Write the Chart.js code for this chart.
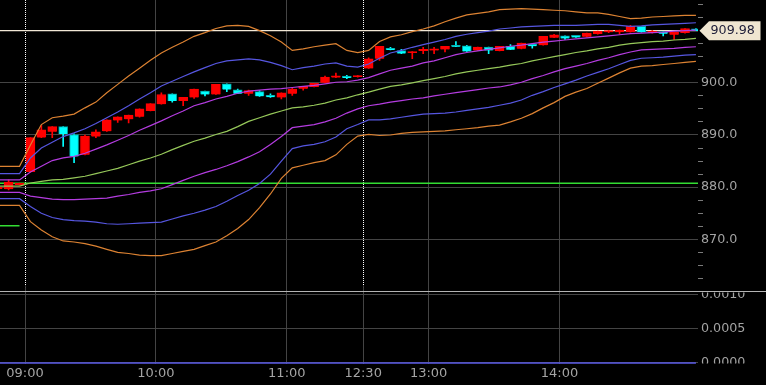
<!DOCTYPE html>
<html>
<head>
<meta charset="utf-8">
<script src="https://cdn.jsdelivr.net/npm/chart.js@4.4.0/dist/chart.umd.min.js"></script>
<style>
  html, body { margin: 0; padding: 0; background: #000; }
  canvas { display: block; }
</style>
</head>
<body>
<canvas id="chart" width="766" height="385"></canvas>
<script>
// 5-minute slots; 0 = 09:00, 31 = 12:30 (lunch break collapsed), negatives = previous session
const slots = [-3, -2, -1,
  0, 1, 2, 3, 4, 5, 6, 7, 8, 9,
  10, 11, 12, 13, 14, 15, 16, 17, 18, 19,
  20, 21, 22, 23, 24, 25, 26, 27, 28, 29,
  30, 31, 32, 33, 34, 35, 36, 37, 38, 39,
  40, 41, 42, 43, 44, 45, 46, 47, 48, 49,
  50, 51, 52, 53, 54, 55, 56, 57, 58, 59,
  60, 61];

const open = [879.7, 879.6, 880.4,
  882.9, 889.5, 890.6, 891.6, 890.1, 886.2, 889.7, 890.7, 892.8, 893.0,
  893.5, 894.6, 895.9, 897.9, 896.5, 897.2, 898.4, 897.75, 899.8, 898.65,
  897.9, 898.3, 897.6, 897.2, 897.9, 898.85, 899.2, 900.0, 901.0, 901.3,
  901.1, 902.75, 904.6, 906.6, 906.15, 905.7, 906.1, 906.2, 906.4, 907.2,
  907.1, 906.2, 906.85, 906.1, 907.0, 906.5, 907.4, 907.2, 908.65, 909.0,
  909.1, 908.8, 909.35, 909.7, 909.7, 909.7, 910.8, 909.6, 909.8, 909.2,
  909.55, 910.35];
const high = [880.0, 881.4, 880.8,
  889.5, 891.8, 891.6, 891.6, 890.2, 890.0, 891.0, 892.9, 893.5, 893.8,
  895.0, 896.0, 898.1, 897.9, 897.2, 898.8, 898.4, 899.7, 899.8, 898.8,
  898.6, 898.5, 897.9, 898.1, 899.1, 899.3, 899.9, 901.3, 901.85, 901.45,
  901.4, 904.8, 907.0, 906.8, 906.4, 906.0, 906.8, 906.8, 907.0, 907.9,
  907.2, 906.85, 906.85, 907.0, 907.3, 907.6, 907.4, 908.9, 909.3, 909.0,
  909.1, 909.5, 909.9, 910.0, 910.1, 911.0, 910.8, 910.0, 909.8, 909.7,
  910.4, 910.4];
const low = [879.7, 879.5, 880.4,
  882.9, 889.5, 889.5, 887.8, 884.7, 886.2, 889.5, 890.7, 892.4, 892.3,
  893.4, 894.6, 895.9, 896.3, 895.6, 897.0, 897.5, 897.75, 898.3, 897.9,
  897.6, 897.4, 897.2, 896.9, 897.6, 898.6, 899.2, 900.0, 901.0, 900.8,
  901.1, 902.75, 904.3, 906.3, 905.6, 904.6, 905.6, 905.6, 905.9, 906.9,
  906.0, 906.2, 905.6, 906.1, 906.35, 906.5, 906.65, 907.2, 908.65, 908.3,
  908.7, 908.8, 909.3, 909.6, 909.3, 909.7, 909.7, 909.5, 909.0, 908.3,
  909.5, 909.98];
const close = [880.0, 881.0, 880.8,
  889.5, 891.0, 891.6, 890.2, 885.9, 889.8, 890.6, 892.9, 893.5, 893.8,
  895.0, 896.0, 897.75, 896.5, 897.2, 898.8, 897.75, 899.7, 898.7, 897.9,
  898.5, 897.4, 897.3, 898.1, 898.8, 899.3, 899.9, 901.1, 901.35, 900.9,
  901.4, 904.6, 907.0, 906.3, 905.6, 906.0, 906.35, 906.5, 907.0, 906.9,
  906.0, 906.85, 906.2, 907.0, 906.35, 907.6, 907.0, 908.9, 909.2, 908.5,
  908.7, 909.5, 909.9, 909.9, 910.1, 910.8, 909.7, 909.9, 909.4, 909.7,
  910.4, 909.98];

// bollinger bands
const bbUpper3 = [884.0, 884.0, 884.0,
  888.1, 892.0, 893.3, 893.6, 894.0, 895.2, 896.3, 898.1, 899.7, 901.3,
  902.8, 904.3, 905.7, 906.8, 907.8, 908.9, 909.6, 910.4, 910.9, 911.0,
  910.8, 910.0, 909.0, 907.8, 906.2, 906.5, 906.9, 907.2, 907.5, 906.2,
  905.8, 906.2, 907.9, 908.8, 909.2, 909.8, 910.3, 910.9, 911.7, 912.4,
  913.0, 913.3, 913.6, 914.0, 914.1, 914.2, 914.1, 914.0, 913.9, 913.8,
  913.6, 913.4, 913.4, 913.1, 912.7, 912.3, 912.4, 912.6, 912.7, 912.8,
  912.9, 912.9];
const bbUpper2 = [882.6, 882.6, 882.6,
  885.6, 887.5, 888.6, 889.7, 890.4, 891.2, 892.2, 893.3, 894.4, 895.6,
  896.9, 898.1, 899.4, 900.3, 901.2, 902.1, 902.9, 903.7, 904.2, 904.4,
  904.6, 904.4, 903.9, 903.3, 902.5, 902.9, 903.2, 903.6, 903.8, 903.2,
  903.0, 903.6, 904.7, 905.7, 906.2, 906.8, 907.3, 907.8, 908.3, 908.9,
  909.3, 909.6, 909.9, 910.3, 910.5, 910.7, 910.8, 910.9, 911.0, 911.0,
  911.0, 911.1, 911.2, 911.2, 911.0, 910.8, 910.9, 911.1, 911.2, 911.3,
  911.4, 911.5];
const bbUpper1 = [881.4, 881.4, 881.4,
  882.9, 884.0, 885.1, 885.6, 885.9, 886.5, 887.3, 888.1, 889.0, 889.9,
  890.9, 891.8, 892.7, 893.7, 894.6, 895.6, 896.2, 896.9, 897.4, 898.0,
  898.4, 898.6, 898.8, 898.9, 899.1, 899.3, 899.5, 899.8, 900.1, 900.2,
  900.5, 901.0, 901.7, 902.4, 902.8, 903.2, 903.8, 904.2, 904.8, 905.4,
  905.8, 906.1, 906.4, 906.7, 907.0, 907.2, 907.5, 907.8, 908.0, 908.2,
  908.4, 908.6, 908.8, 909.0, 909.2, 909.4, 909.5, 909.6, 909.7, 909.9,
  910.0, 910.1];
const bbMiddle = [880.2, 880.2, 880.2,
  880.8, 881.1, 881.4, 881.5, 881.8, 882.1, 882.6, 883.1, 883.6, 884.3,
  885.0, 885.6, 886.3, 887.2, 888.0, 888.8, 889.4, 890.1, 890.7, 891.6,
  892.6, 893.3, 894.0, 894.6, 895.2, 895.4, 895.7, 896.1, 896.7, 897.1,
  897.7, 898.2, 898.8, 899.3, 899.6, 900.0, 900.4, 900.8, 901.2, 901.7,
  902.1, 902.4, 902.7, 903.0, 903.4, 903.7, 904.2, 904.6, 905.0, 905.4,
  905.8, 906.1, 906.5, 906.8, 907.2, 907.5, 907.7, 907.9, 908.0, 908.2,
  908.3, 908.5];
const bbLower1 = [879.0, 879.0, 879.0,
  878.3, 878.0, 877.7, 877.6, 877.6, 877.7, 877.8, 877.9, 878.3, 878.6,
  879.0, 879.3, 879.7, 880.5, 881.3, 882.1, 882.8, 883.4, 884.1, 884.9,
  885.8, 886.8, 888.2, 889.7, 891.4, 891.7, 892.0, 892.5, 893.2, 894.2,
  895.0, 895.6, 895.9, 896.3, 896.6, 896.9, 897.1, 897.5, 897.8, 898.1,
  898.4, 898.7, 899.0, 899.2, 899.6, 900.1, 900.8, 901.4, 902.1, 902.7,
  903.2, 903.7, 904.3, 904.8, 905.4, 905.9, 906.3, 906.4, 906.5, 906.6,
  906.8, 906.9];
const bbLower2 = [877.8, 877.8, 877.8,
  876.3, 875.0, 874.2, 873.8, 873.6, 873.5, 873.3, 873.0, 872.9, 873.0,
  873.1, 873.2, 873.3, 873.9, 874.5, 875.0, 875.6, 876.3, 877.3, 878.4,
  879.4, 880.7, 882.5, 885.0, 887.4, 887.9, 888.2, 888.7, 889.6, 891.2,
  892.0, 892.9, 892.9, 893.1, 893.4, 893.7, 894.0, 894.1, 894.2, 894.4,
  894.7, 895.0, 895.3, 895.7, 896.1, 896.7, 897.6, 898.3, 899.1, 899.8,
  900.5, 901.3, 902.0, 902.7, 903.5, 904.3, 904.7, 904.8, 904.9, 905.1,
  905.3, 905.4];
const bbLower3 = [876.5, 876.5, 876.5,
  873.4, 871.8, 870.5, 869.7, 869.5, 869.2, 868.7, 868.1, 867.5, 867.3,
  867.0, 866.9, 866.9, 867.3, 867.7, 868.1, 868.8, 869.5, 870.7, 872.1,
  873.8, 876.1, 878.7, 881.7, 883.7, 884.2, 884.7, 885.1, 886.2, 888.2,
  889.8, 890.1, 889.9, 890.0, 890.3, 890.5, 890.6, 890.7, 890.8, 891.0,
  891.2, 891.4, 891.7, 891.9, 892.5, 893.2, 894.1, 895.2, 896.2, 897.4,
  898.2, 898.9, 899.9, 900.9, 901.9, 902.8, 903.2, 903.3, 903.5, 903.7,
  903.9, 904.1];

// lower pane indicator (flat at zero)
const subValues = [0, 0, 0,
  0, 0, 0, 0, 0, 0, 0, 0, 0, 0,
  0, 0, 0, 0, 0, 0, 0, 0, 0, 0,
  0, 0, 0, 0, 0, 0, 0, 0, 0, 0,
  0, 0, 0, 0, 0, 0, 0, 0, 0, 0,
  0, 0, 0, 0, 0, 0, 0, 0, 0, 0,
  0, 0, 0, 0, 0, 0, 0, 0, 0, 0,
  0, 0];

const lastPrice = 909.98;
const refLevel = 880.77;
const prevDayLevel = 872.6;
const prevDaySlots = [-3, -2, -1];

const timeLabels = ['09:00', '10:00', '11:00', '12:30', '13:00', '14:00'];
const timeSlots = [0, 12, 24, 31, 37, 49];
const sessionStarts = [0, 31];

const GRID = '#444444';
const TEXT = '#a4a4a4';
const UP = '#ff0000';
const DOWN = '#00ffff';

const pts = arr => slots.map((k, i) => ({ x: k, y: arr[i] }));
const isUp = i => close[i] >= open[i];
const isMajor = v => Math.abs(v / 10 - Math.round(v / 10)) < 1e-6;
const noPad = s => { s.paddingTop = 0; s.paddingBottom = 0; s.paddingLeft = 0; s.paddingRight = 0; };

const bandLine = (data, color) => ({
  type: 'line', data: pts(data), yAxisID: 'y', order: 0,
  borderColor: color, borderWidth: 1.2, pointRadius: 0, tension: 0
});
const levelLine = (xs, v, color, width, order) => ({
  type: 'line', data: xs.map(k => ({ x: k, y: v })), yAxisID: 'y', order,
  borderColor: color, borderWidth: width, pointRadius: 0
});

const overlay = {
  id: 'overlay',
  beforeDatasetsDraw(chart) {
    const { ctx, scales: { x, y, y2 } } = chart;
    ctx.save();
    sessionStarts.forEach(k => {
      const px = Math.round(x.getPixelForValue(k - 0.5)) + 0.5;
      ctx.strokeStyle = GRID;
      ctx.lineWidth = 1;
      ctx.setLineDash([]);
      ctx.beginPath();
      ctx.moveTo(px, y.bottom - 5);
      ctx.lineTo(px, y2.bottom);
      ctx.stroke();
      ctx.strokeStyle = '#ffffff';
      ctx.setLineDash([1, 1]);
      ctx.beginPath();
      ctx.moveTo(px, y.top);
      ctx.lineTo(px, y.bottom - 5);
      ctx.stroke();
    });
    ctx.restore();
  },
  afterDraw(chart) {
    const { ctx, scales: { y, y2 } } = chart;
    const w = chart.width;
    ctx.save();
    // clip sub pane labels to their pane
    ctx.fillStyle = '#000';
    ctx.fillRect(y.left, y.bottom - 8, 68, 10);
    ctx.fillRect(y2.left, y2.getPixelForValue(0) + 0.5, 68, 6);
    // pane separator
    ctx.strokeStyle = '#b4b4b4';
    ctx.lineWidth = 1;
    ctx.beginPath();
    ctx.moveTo(0, Math.round(y.bottom) + 0.5);
    ctx.lineTo(w, Math.round(y.bottom) + 0.5);
    ctx.stroke();
    // last price tag
    const yc = y.getPixelForValue(lastPrice);
    const x0 = y.left + 1.5, x1 = x0 + 9.5, x2 = x0 + 61;
    ctx.fillStyle = '#efe5d0';
    ctx.beginPath();
    ctx.moveTo(x0, yc);
    ctx.lineTo(x1, yc - 9.5);
    ctx.lineTo(x2, yc - 9.5);
    ctx.lineTo(x2, yc + 9.5);
    ctx.lineTo(x1, yc + 9.5);
    ctx.closePath();
    ctx.fill();
    ctx.fillStyle = '#1c1c38';
    ctx.font = '12.7px "DejaVu Sans"';
    ctx.textBaseline = 'middle';
    ctx.textAlign = 'left';
    ctx.fillText(lastPrice.toFixed(2), x1 + 1.5, yc + 0.5);
    ctx.restore();
  }
};

new Chart(document.getElementById('chart').getContext('2d'), {
  data: {
    datasets: [
      bandLine(bbUpper3, '#dc8232'),
      bandLine(bbUpper2, '#5656e0'),
      bandLine(bbUpper1, '#b43ce0'),
      bandLine(bbMiddle, '#96c85a'),
      bandLine(bbLower1, '#b43ce0'),
      bandLine(bbLower2, '#5656e0'),
      bandLine(bbLower3, '#dc8232'),
      {
        type: 'bar', yAxisID: 'y', order: 1, grouped: false,
        data: slots.map((k, i) => ({ x: k, y: [open[i], close[i]] })),
        backgroundColor: c => isUp(c.dataIndex) ? UP : DOWN,
        borderColor: c => isUp(c.dataIndex) ? UP : '#00a0a0',
        borderWidth: 1, barThickness: 9, minBarLength: 1.5
      },
      {
        type: 'bar', yAxisID: 'y', order: 2, grouped: false,
        data: slots.map((k, i) => ({ x: k, y: [low[i], high[i]] })),
        backgroundColor: c => isUp(c.dataIndex) ? UP : DOWN,
        barThickness: 1
      },
      levelLine([-3, 62], lastPrice, '#f2e8d6', 1.2, 3),
      levelLine([-3, 62], refLevel, '#33dd33', 1.5, 4),
      levelLine(prevDaySlots, prevDayLevel, '#33dd33', 1.5, 4),
      {
        type: 'line', data: pts(subValues), yAxisID: 'y2', order: 0,
        borderColor: '#5a5ae6', borderWidth: 1.5, pointRadius: 0
      }
    ]
  },
  options: {
    responsive: false,
    animation: false,
    devicePixelRatio: 1,
    layout: { padding: 0 },
    plugins: { legend: { display: false }, tooltip: { enabled: false } },
    scales: {
      x: {
        type: 'linear', position: 'bottom', min: -2.79, max: 61.19, offset: false,
        afterBuildTicks: s => { s.ticks = timeSlots.map(k => ({ value: k - 0.5 })); },
        afterFit: s => { noPad(s); s.height = 21; },
        ticks: {
          autoSkip: false, maxRotation: 0, padding: 2, color: TEXT,
          font: { family: 'DejaVu Sans', size: 13 },
          callback: (v, i) => timeLabels[i]
        },
        grid: {
          offset: false, drawTicks: false, lineWidth: 1,
          color: c => sessionStarts.includes(timeSlots[c.index]) ? 'transparent' : GRID
        },
        border: { display: false }
      },
      y: {
        type: 'linear', position: 'right', stack: 'panes', stackWeight: 290.5,
        min: 860.21, max: 915.86,
        afterFit: s => { noPad(s); s.width = 68; },
        ticks: {
          stepSize: 2.5, includeBounds: false, autoSkip: false, padding: -2, color: TEXT,
          font: { family: 'DejaVu Sans', size: 12.7 },
          callback: v => (isMajor(v) && Math.round(v) !== 910) ? v.toFixed(1) : ''
        },
        grid: {
          lineWidth: 1, tickLength: 5,
          color: c => (isMajor(c.tick.value) && Math.round(c.tick.value) !== 910) ? GRID : 'transparent',
          tickColor: c => isMajor(c.tick.value) ? 'transparent' : '#7a7a7a'
        },
        border: { display: false }
      },
      y2: {
        type: 'linear', position: 'right', stack: 'panes', stackWeight: 73.5,
        min: -0.0000146, max: 0.0010584,
        afterFit: s => { noPad(s); s.width = 68; },
        ticks: {
          stepSize: 0.0005, includeBounds: false, autoSkip: false, padding: -2, color: TEXT,
          font: { family: 'DejaVu Sans', size: 12.7 },
          callback: v => v.toFixed(4)
        },
        grid: { lineWidth: 1, tickLength: 5, color: GRID, tickColor: 'transparent' },
        border: { display: false }
      }
    }
  },
  plugins: [overlay]
});
</script>
</body>
</html>
